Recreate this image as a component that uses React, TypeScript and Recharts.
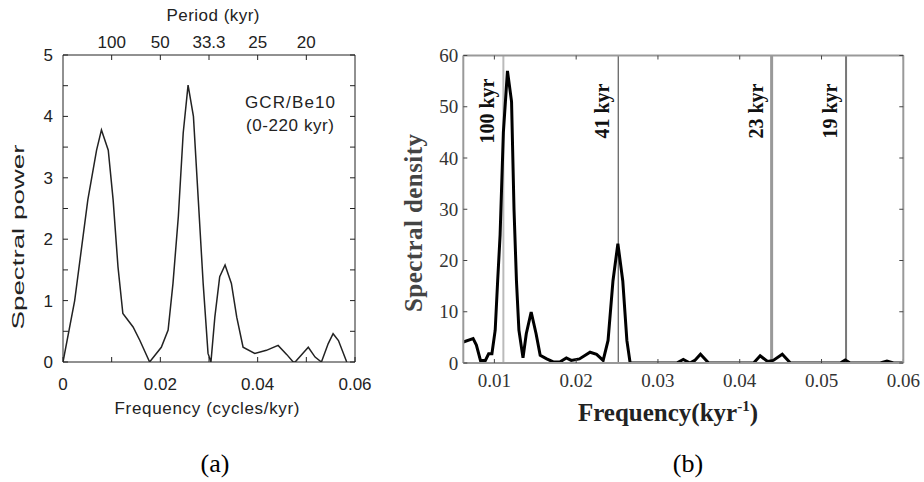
import React from "react";
import { LineChart, Line, XAxis, YAxis, ReferenceLine } from "recharts";

// (a) GCR/Be10 spectrum, 0-220 kyr
const freqA = [
  0, 0.0024, 0.0051, 0.0069, 0.0079, 0.0093, 0.0103, 0.0113, 0.0123, 0.0144,
  0.0158, 0.0178, 0.0202, 0.0216, 0.0226, 0.0237, 0.0247, 0.0257, 0.0268,
  0.0278, 0.0288, 0.0298, 0.0304, 0.0312, 0.0322, 0.0333, 0.0346, 0.0357,
  0.037, 0.0394, 0.0418, 0.0442, 0.046, 0.0473, 0.0477, 0.0504, 0.0518,
  0.0531, 0.0545, 0.0555, 0.0566, 0.0583,
];
const powerA = [
  0, 1.0, 2.64, 3.45, 3.78, 3.45, 2.64, 1.55, 0.79, 0.57, 0.35, 0, 0.24, 0.52,
  1.28, 2.37, 3.73, 4.51, 4.0, 2.64, 1.28, 0.14, 0, 0.73, 1.39, 1.58, 1.28,
  0.73, 0.24, 0.14, 0.19, 0.27, 0.12, 0, 0, 0.24, 0.08, 0, 0.3, 0.46, 0.35, 0,
];
const ticksA = [0, 0.01, 0.02, 0.03, 0.04, 0.05, 0.06];
const ticksAY = [0, 0.5, 1, 1.5, 2, 2.5, 3, 3.5, 4, 4.5, 5];
const periodTicks = [0.01, 0.02, 0.03, 0.04, 0.05];
const periodLabels = ["100", "50", "33.3", "25", "20"];

// (b) spectral density
const freqB = [
  0.0062, 0.0074, 0.0078, 0.0083, 0.0089, 0.0093, 0.0097, 0.0101, 0.0104,
  0.0107, 0.0111, 0.0116, 0.0121, 0.0124, 0.0127, 0.013, 0.0135, 0.0139,
  0.0145, 0.0151, 0.0156, 0.0164, 0.0172, 0.018, 0.0188, 0.0194, 0.0204,
  0.0217, 0.0225, 0.0233, 0.0239, 0.0245, 0.0251, 0.0257, 0.0262, 0.0266,
  0.0323, 0.0331, 0.0339, 0.0345, 0.0352, 0.0362, 0.0417, 0.0425, 0.0434,
  0.0441, 0.0452, 0.0462, 0.0523, 0.0529, 0.0535, 0.0572, 0.058, 0.0588, 0.06,
];
const densityB = [
  4.1, 4.75, 3.5, 0.5, 0.5, 1.8, 1.8, 6.4, 16, 25, 45, 57, 51, 30, 16, 6.4,
  1.0, 5.7, 9.95, 5.7, 1.5, 0.8, 0.2, 0.2, 1.0, 0.5, 0.8, 2.1, 1.7, 0.5, 4.4,
  16, 23.3, 16, 4.4, 0, 0, 0.7, 0, 0.5, 1.7, 0, 0, 1.4, 0.3, 0.5, 1.7, 0, 0,
  0.6, 0, 0, 0.4, 0, 0,
];
const ticksB = [0.01, 0.02, 0.03, 0.04, 0.05, 0.06];
const ticksBY = [0, 10, 20, 30, 40, 50, 60];
const refFreqs = [0.0111, 0.02515, 0.0439, 0.053];
const refLabels = ["100 kyr", "41 kyr", "23 kyr", "19 kyr"];

const refStyles = [
  { stroke: "#bbb", width: 2 },
  { stroke: "#666", width: 1.3 },
  { stroke: "#999", width: 3 },
  { stroke: "#777", width: 2 },
];

const dataA = freqA.map((f, i) => ({ f, p: powerA[i] }));
const dataB = freqB.map((f, i) => ({ f, d: densityB[i] }));

const SANS = "'Liberation Sans', Arial, sans-serif";
const SERIF = "'Liberation Serif', 'Times New Roman', serif";

const sansTick = { fontFamily: SANS, fontSize: 17, fill: "#222" };
const serifTick = { fontFamily: SERIF, fontSize: 19, fill: "#333" };

const RefLabel = (props: any) => {
  const { viewBox, value } = props;
  const x = viewBox.x - 16;
  return (
    <text
      transform={`translate(${x}, 111) rotate(-90)`}
      textAnchor="middle"
      dominantBaseline="central"
      fontFamily={SERIF}
      fontWeight="bold"
      fontSize={20}
      fill="#111"
    >
      {value}
    </text>
  );
};

const ChartA = () => (
  <LineChart
    width={420}
    height={482}
    data={dataA}
    margin={{ top: 25, right: 55, bottom: 90, left: 33 }}
  >
    <XAxis
      dataKey="f"
      type="number"
      domain={[0, 0.06]}
      ticks={ticksA}
      interval={0}
      height={30}
      tickSize={-5}
      tickMargin={21}
      tickFormatter={(v: number) => (Math.round(v * 100) % 2 === 0 ? String(v) : "")}
      tick={sansTick}
      stroke="#222"
      allowDataOverflow
    />
    <XAxis
      xAxisId="top"
      orientation="top"
      dataKey="f"
      type="number"
      domain={[0, 0.06]}
      ticks={periodTicks}
      interval={0}
      height={30}
      tickSize={-5}
      tickMargin={12}
      tickFormatter={(v: number) => periodLabels[periodTicks.indexOf(v)] ?? ""}
      tick={sansTick}
      stroke="#222"
      allowDataOverflow
    />
    <YAxis
      type="number"
      domain={[0, 5]}
      ticks={ticksAY}
      interval={0}
      width={30}
      tickSize={-5}
      tickMargin={15}
      tickFormatter={(v: number) => (Number.isInteger(v) ? String(v) : "")}
      tick={sansTick}
      stroke="#222"
      allowDataOverflow
    />
    <YAxis
      yAxisId="right"
      orientation="right"
      type="number"
      domain={[0, 5]}
      ticks={ticksAY}
      interval={0}
      width={10}
      tickSize={-5}
      tickFormatter={() => ""}
      stroke="#222"
      allowDataOverflow
    />
    <Line
      dataKey="p"
      type="linear"
      stroke="#222"
      strokeWidth={1.5}
      dot={false}
      isAnimationActive={false}
    />
  </LineChart>
);

const ChartB = () => (
  <LineChart
    width={504}
    height={482}
    data={dataB}
    margin={{ top: 50.5, right: 15.7, bottom: 89, left: 13.3 }}
  >
    <XAxis
      dataKey="f"
      type="number"
      domain={[0.0062, 0.06]}
      ticks={ticksB}
      interval={0}
      height={30}
      tickSize={-4}
      tickMargin={15}
      tickFormatter={(v: number) => v.toFixed(2)}
      tick={serifTick}
      stroke="#999"
      strokeWidth={2}
      tickLine={{ stroke: "#444", strokeWidth: 1 }}
      allowDataOverflow
    />
    <XAxis
      xAxisId="top"
      orientation="top"
      dataKey="f"
      type="number"
      domain={[0.0062, 0.06]}
      ticks={ticksB}
      interval={0}
      height={5}
      tickSize={-4}
      tickFormatter={() => ""}
      stroke="#999"
      strokeWidth={2}
      tickLine={{ stroke: "#444", strokeWidth: 1 }}
      allowDataOverflow
    />
    <YAxis
      type="number"
      domain={[0, 60]}
      ticks={ticksBY}
      interval={0}
      width={30}
      tickSize={-4}
      tickMargin={9}
      tick={serifTick}
      stroke="#999"
      strokeWidth={2}
      tickLine={{ stroke: "#444", strokeWidth: 1 }}
      allowDataOverflow
    />
    <YAxis
      yAxisId="right"
      orientation="right"
      type="number"
      domain={[0, 60]}
      ticks={ticksBY}
      interval={0}
      width={5}
      tickSize={-4}
      tickFormatter={() => ""}
      stroke="#999"
      strokeWidth={2}
      tickLine={{ stroke: "#444", strokeWidth: 1 }}
      allowDataOverflow
    />
    {refFreqs.map((f, i) => (
      <ReferenceLine
        key={refLabels[i]}
        x={f}
        stroke={refStyles[i].stroke}
        strokeWidth={refStyles[i].width}
        label={<RefLabel value={refLabels[i]} />}
      />
    ))}
    <Line
      dataKey="d"
      type="linear"
      stroke="#000"
      strokeWidth={3}
      dot={false}
      isAnimationActive={false}
    />
  </LineChart>
);

export default function App() {
  return (
    <div
      style={{
        position: "absolute",
        left: 0,
        top: 0,
        width: 924,
        height: 482,
        background: "#fff",
      }}
    >
      <div style={{ position: "absolute", left: 0, top: 0 }}>
        <ChartA />
      </div>
      <div style={{ position: "absolute", left: 420, top: 0 }}>
        <ChartB />
      </div>
      <svg
        width={924}
        height={482}
        style={{ position: "absolute", left: 0, top: 0, pointerEvents: "none" }}
      >
        <g fontFamily={SANS} fontSize={17} fill="#222" textAnchor="middle">
          <text x={213} y={15} dominantBaseline="central" textLength={93}>
            Period (kyr)
          </text>
          <text
            transform="translate(18, 237) rotate(-90)"
            dominantBaseline="central"
            fontSize={16}
            textLength={185}
            lengthAdjust="spacingAndGlyphs"
          >
            Spectral power
          </text>
          <text x={207} y={408} dominantBaseline="central" textLength={185}>
            Frequency (cycles/kyr)
          </text>
          <text x={290} y={102} dominantBaseline="central" textLength={90}>
            GCR/Be10
          </text>
          <text x={290} y={125} dominantBaseline="central" textLength={88}>
            (0-220 kyr)
          </text>
        </g>
        <g fontFamily={SERIF} fontWeight="bold" fontSize={24} textAnchor="middle">
          <text
            transform="translate(413, 223) rotate(-90)"
            dominantBaseline="central"
            fontSize={25}
            textLength={178}
            fill="#444"
          >
            Spectral density
          </text>
          <text x={668} y={421} fontSize={25} fill="#222">
            Frequency(kyr
            <tspan fontSize={15} dy={-10}>
              -1
            </tspan>
            <tspan dy={10}>)</tspan>
          </text>
        </g>
        <g fontFamily={SERIF} fontSize={26} fill="#000" textAnchor="middle">
          <text x={215} y={463} dominantBaseline="central">
            (a)
          </text>
          <text x={688} y={463} dominantBaseline="central">
            (b)
          </text>
        </g>
      </svg>
    </div>
  );
}
